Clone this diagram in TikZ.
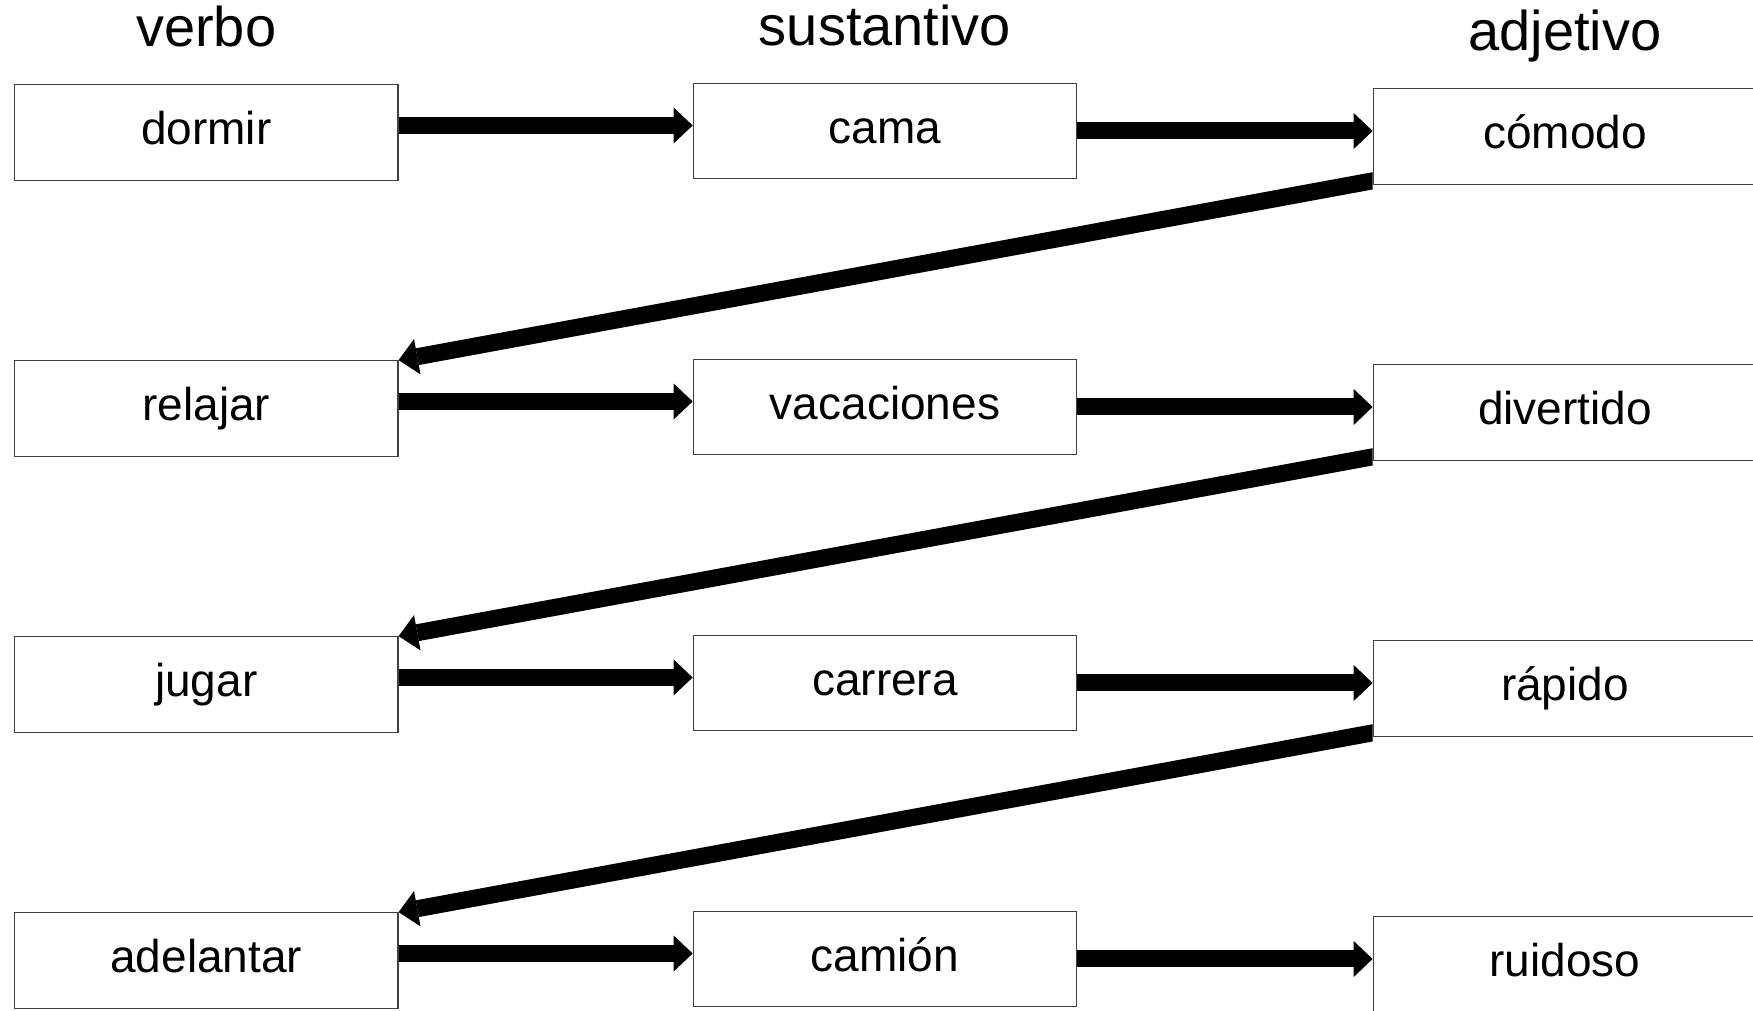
\documentclass[tikz,border=0pt]{standalone}
\usepackage{fontspec}
\setmainfont{Liberation Sans}
\usetikzlibrary{arrows.meta,positioning,backgrounds}

\tikzset{
  wordbox/.style={draw=black!75, fill=white, line width=1.2pt, minimum width=383.5pt,
    minimum height=95.5pt, inner sep=0pt, font=\fontsize{46}{55}\selectfont,
    text height=34.5pt, text depth=9.7pt},
  colhead/.style={inner sep=0pt, font=\fontsize{56}{67}\selectfont,
    text height=42pt, text depth=11.8pt},
  bigarrow/.style={line width=17pt, -{Triangle[length=19pt,width=36pt,line width=0pt]}},
}

\begin{document}
\begin{tikzpicture}[x=1pt,y=1pt]
\useasboundingbox (0,0) rectangle (1753,1011);
\coordinate (topedge) at (0,1011);

\foreach \i/\vb/\st/\aj in {1/dormir/cama/cómodo, 2/relajar/vacaciones/divertido,
  3/jugar/carrera/rápido, 4/adelantar/camión/ruidoso} {
\node[wordbox] (v\i) at (206.25, 878.5-276*\i+276) {\vb};
\node[wordbox] (s\i) at (885, 880-276*\i+276) {\st};
\node[wordbox] (a\i) at (1565, 874.5-276*\i+276) {\aj};
}

\node[colhead, above=25.2pt of v1] (hverbo) {verbo};
\node[colhead, above=25.2pt of s1] (hsust) {sustantivo};
\node[colhead, above=25.2pt of a1] (hadj) {adjetivo};

\begin{scope}[on background layer]
\foreach \i in {1,...,4} {
\draw[bigarrow] ([yshift=7pt]v\i.east) -- ([yshift=7pt]v\i.east -| s\i.west);
\draw[bigarrow] (s\i.east) -- (s\i.east -| a\i.west);
}
\clip (0,0) rectangle (a1.west |- topedge);
\foreach \i/\j in {1/2, 2/3, 3/4} {
\draw[bigarrow, shorten <=-10pt] ([yshift=4pt]a\i.south west) -- (v\j.north east);
}
\end{scope}
\end{tikzpicture}
\end{document}
